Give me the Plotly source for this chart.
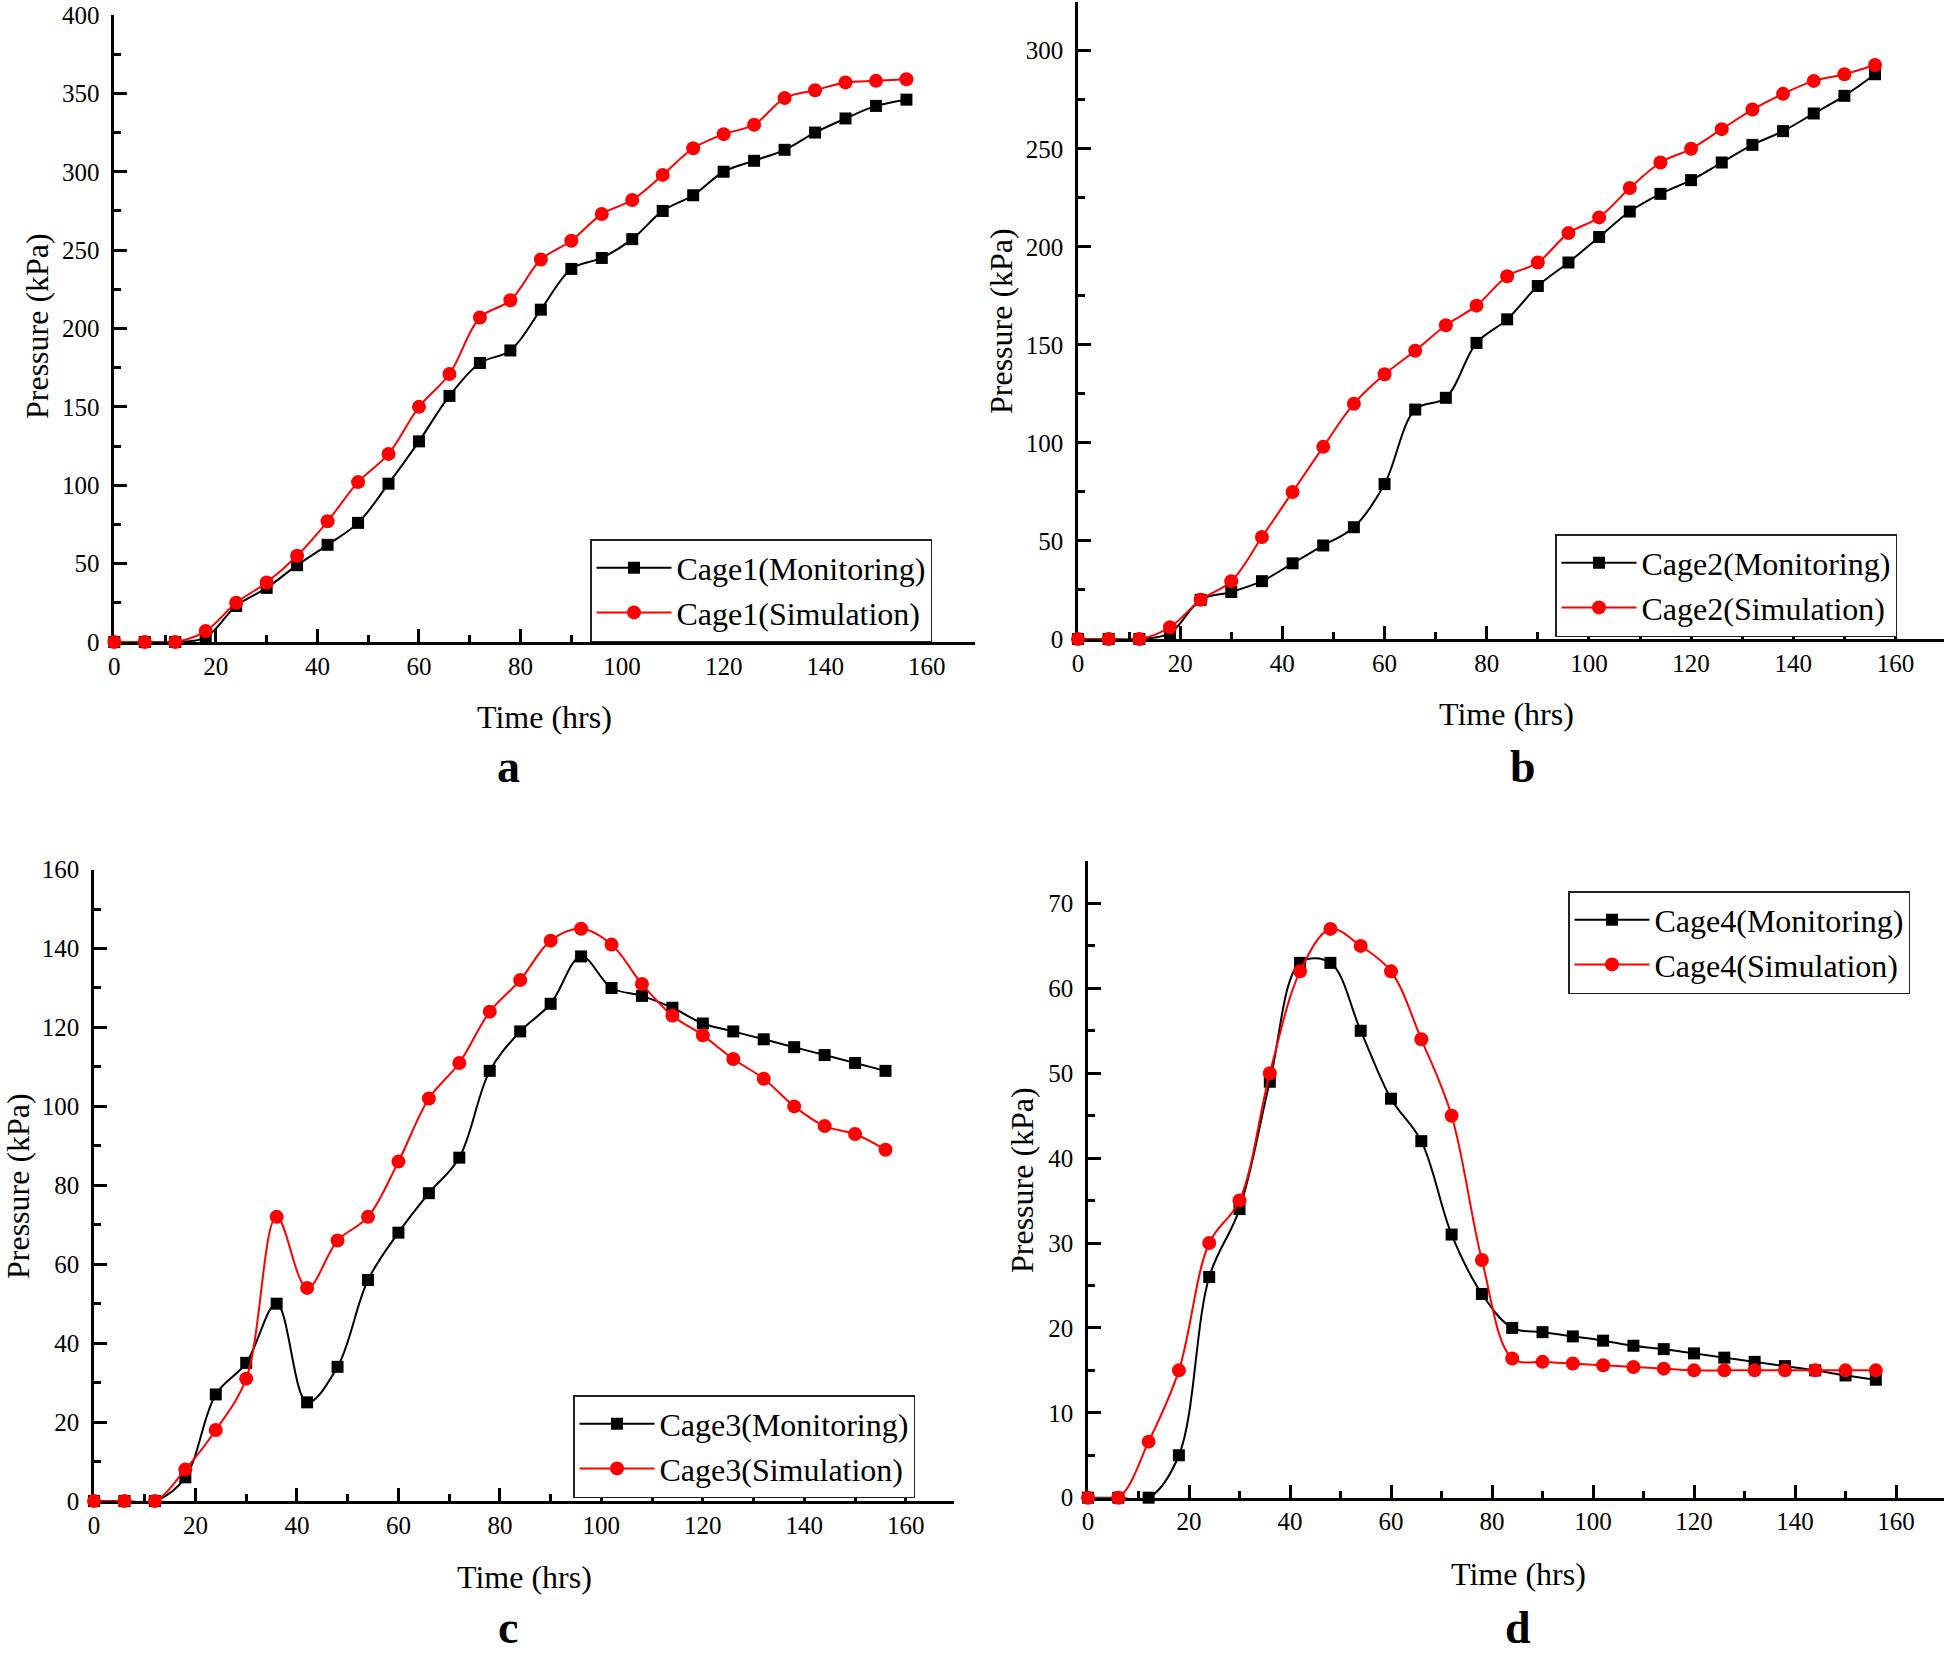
import plotly.graph_objects as go

# ---------------- data ----------------
time_hrs = [0, 6, 12, 18, 24, 30, 36, 42, 48, 54, 60, 66, 72, 78, 84, 90,
            96, 102, 108, 114, 120, 126, 132, 138, 144, 150, 156]

cage1_monitoring = [0, 0, 0, 3, 23, 34.5, 49, 62, 76, 101, 128, 157, 178, 186,
                    212, 238, 245, 257, 275, 285, 300, 307, 314, 325, 334, 342, 346]
cage1_simulation = [0, 0, 0, 7, 25, 38, 55, 77, 102, 120, 150, 171, 207, 218,
                    244, 256, 273, 282, 298, 315, 324, 330, 347, 352, 357, 358, 359]

cage2_monitoring = [0, 0, 0, 3, 20, 24, 29.5, 38.6, 47.7, 57, 79, 117, 123, 151,
                    163, 180, 192, 205, 218, 227, 234, 243, 252, 259, 268, 277, 288]
cage2_simulation = [0, 0, 0, 6, 20, 29.5, 52, 75, 98, 120, 135, 147, 160, 170,
                    185, 192, 207, 215, 230, 243, 250, 260, 270, 278, 284.6, 288, 292.7]

cage3_monitoring = [0, 0, 0, 6, 27, 35, 50, 25, 34, 56, 68, 78, 87, 109,
                    119, 126, 138, 130, 128, 125, 121, 119, 117, 115, 113, 111, 109]
cage3_simulation = [0, 0, 0, 8, 18, 31, 72, 54, 66, 72, 86, 102, 111, 124,
                    132, 142, 145, 141, 131, 123, 118, 112, 107, 100, 95, 93, 89]

cage4_monitoring = [0, 0, 0, 5, 26, 34, 49, 63, 63, 55, 47, 42, 31, 24,
                    20, 19.5, 19, 18.5, 17.9, 17.5, 17, 16.5, 16, 15.5, 15, 14.4, 13.9]
cage4_simulation = [0, 0, 6.6, 15, 30, 35, 50, 62, 67, 65, 62, 54, 45, 28,
                    16.4, 16, 15.8, 15.6, 15.4, 15.2, 15, 15, 15, 15, 15, 15, 15]

panel_letters = ["a", "b", "c", "d"]
cage_names = ["Cage1", "Cage2", "Cage3", "Cage4"]
y_ranges = [[0, 400], [0, 325], [0, 160], [0, 75]]
y_dticks = [50, 50, 20, 10]
x_title = "Time (hrs)"
y_title = "Pressure (kPa)"

monitoring = [cage1_monitoring, cage2_monitoring, cage3_monitoring, cage4_monitoring]
simulation = [cage1_simulation, cage2_simulation, cage3_simulation, cage4_simulation]

# ---------------- layout geometry (pixels) ----------------
W, H = 1948, 1662
FONT = "Liberation Serif, Times New Roman, serif"


def px(x):
    return min(max(x / W, 0), 1)


def py(y):
    return min(max(1 - y / H, 0), 1)


# left, right, bottom(y=0), top  in pixel coords
panels = [
    (114.3, 975, 642, 15),
    (1078, 1944, 639, 1.7),
    (94, 954, 1501, 869.6),
    (1088, 1944, 1497.7, 861),
]
legend_boxes = [(590, 539), (1555, 534), (573, 1395), (1568, 891)]
xtitle_pos = [(544, 717), (1506, 714), (524, 1577), (1518, 1574)]
ytitle_pos = [(37, 326), (1001, 321), (18, 1186), (1022, 1180)]
letter_pos = [(509, 766), (1523, 766), (508, 1627), (1518, 1627)]

fig = go.Figure()
layout = dict(
    template="none",
    width=W, height=H,
    margin=dict(l=0, r=0, t=0, b=0, pad=0, autoexpand=False),
    paper_bgcolor="white", plot_bgcolor="white",
    font=dict(family=FONT, color="black"),
    annotations=[],
)

for i in range(4):
    n = "" if i == 0 else str(i + 1)
    lg = "legend" if i == 0 else "legend" + str(i + 1)
    fig.add_trace(go.Scatter(
        x=time_hrs, y=monitoring[i], mode="lines+markers",
        name=cage_names[i] + "(Monitoring)",
        line=dict(color="black", width=2, shape="spline", smoothing=1),
        marker=dict(symbol="square", size=12, color="black", line=dict(width=0)),
        xaxis="x" + n, yaxis="y" + n, legend=lg, cliponaxis=False,
    ))
    fig.add_trace(go.Scatter(
        x=time_hrs, y=simulation[i], mode="lines+markers",
        name=cage_names[i] + "(Simulation)",
        line=dict(color="#ff0000", width=2, shape="spline", smoothing=1),
        marker=dict(symbol="circle", size=14, color="#ff0000", line=dict(width=0)),
        xaxis="x" + n, yaxis="y" + n, legend=lg, cliponaxis=False,
    ))

    L, R, B, T = panels[i]
    axis_common = dict(
        showline=True, linecolor="black", linewidth=2.5,
        ticks="inside", ticklen=13, tickwidth=2.5, tickcolor="black",
        showgrid=False, zeroline=False, layer="below traces",
        automargin=False, ticklabeloverflow="allow",
        tickfont=dict(family=FONT, size=25, color="black"),
    )
    layout["xaxis" + n] = dict(
        axis_common,
        domain=[px(L), px(R)], range=[0, 169.5],
        tick0=0, dtick=20,
        minor=dict(ticks="inside", ticklen=7, tickwidth=2.5, tickcolor="black", dtick=10),
        anchor="y" + n,
    )
    layout["yaxis" + n] = dict(
        axis_common,
        domain=[py(B), py(T)], range=y_ranges[i],
        tick0=0, dtick=y_dticks[i], ticklabelstandoff=7,
        minor=dict(ticks="inside", ticklen=7, tickwidth=2.5, tickcolor="black",
                   dtick=y_dticks[i] / 2),
        anchor="x" + n,
    )
    lx, ly = legend_boxes[i]
    layout[lg] = dict(
        x=px(lx), y=py(ly), xanchor="left", yanchor="top",
        bgcolor="white", bordercolor="#222222", borderwidth=1.5,
        font=dict(family=FONT, size=32, color="black"),
        tracegroupgap=0, itemwidth=75,
    )
    tx, ty = xtitle_pos[i]
    layout["annotations"].append(dict(
        text=x_title, x=px(tx), y=py(ty), xref="paper", yref="paper",
        xanchor="center", yanchor="middle", showarrow=False,
        font=dict(family=FONT, size=32, color="black"),
    ))
    yx, yy = ytitle_pos[i]
    layout["annotations"].append(dict(
        text=y_title, x=px(yx), y=py(yy), xref="paper", yref="paper",
        xanchor="center", yanchor="middle", showarrow=False, textangle=-90,
        font=dict(family=FONT, size=32, color="black"),
    ))
    ax_, ay_ = letter_pos[i]
    layout["annotations"].append(dict(
        text="<b>" + panel_letters[i] + "</b>", x=px(ax_), y=py(ay_),
        xref="paper", yref="paper",
        xanchor="center", yanchor="middle", showarrow=False,
        font=dict(family=FONT, size=46, color="black"),
    ))

fig.update_layout(**layout)
fig.write_html(
    "out.html",
    config=dict(displayModeBar=False),
    post_script="document.body.style.margin='0px';document.body.style.overflow='hidden';",
)
